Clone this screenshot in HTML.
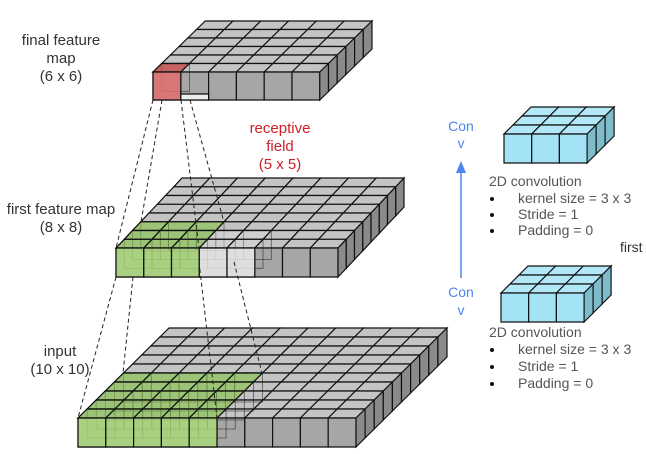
<!DOCTYPE html>
<html><head><meta charset="utf-8"><style>
html,body{margin:0;padding:0;background:#fff;width:646px;height:454px;overflow:hidden}
svg text{font-family:"Liberation Sans",sans-serif;font-size:14px}
.l text{font-size:15px}
</style></head><body>
<svg id="s" width="646" height="454" xmlns="http://www.w3.org/2000/svg">
<g id="g"></g>
<g fill="#333" text-anchor="middle" class="l">
<text x="61" y="45">final feature</text>
<text x="61" y="63">map</text>
<text x="61" y="81">(6 x 6)</text>
<text x="61" y="214">first feature map</text>
<text x="61" y="232">(8 x 8)</text>
<text x="60" y="356">input</text>
<text x="60" y="374">(10 x 10)</text>
</g>
<g fill="#d0202a" text-anchor="middle" class="l">
<text x="280" y="133">receptive</text>
<text x="280" y="151">field</text>
<text x="280" y="169">(5 x 5)</text>
</g>
<g fill="#4a86f0" text-anchor="middle">
<text x="461" y="131">Con</text>
<text x="461" y="148">v</text>
<text x="461" y="297">Con</text>
<text x="461" y="315">v</text>
</g>
<line x1="461" y1="278" x2="461" y2="172" stroke="#4a86f0" stroke-width="1.5"/>
<polygon points="461,161 456,173 466,173" fill="#4a86f0"/>
<g fill="#555">
<text x="489" y="186">2D convolution</text>
<text x="518" y="203">kernel size = 3 x 3</text>
<text x="518" y="219">Stride = 1</text>
<text x="518" y="235">Padding = 0</text>
<text x="489" y="337">2D convolution</text>
<text x="518" y="354">kernel size = 3 x 3</text>
<text x="518" y="371">Stride = 1</text>
<text x="518" y="388">Padding = 0</text>
</g>
<g fill="#111">
<circle cx="492" cy="199" r="2"/><circle cx="492" cy="215" r="2"/><circle cx="492" cy="231" r="2"/>
<circle cx="492" cy="350" r="2"/><circle cx="492" cy="367" r="2"/><circle cx="492" cy="384" r="2"/>
</g>
<text x="620" y="252" fill="#333">first</text>
<g id="d" stroke="#222" stroke-width="1" stroke-dasharray="4,3" fill="none"></g>
</svg>
<script>
var g=document.getElementById('g'),NS='http://www.w3.org/2000/svg';
function poly(pts,fill,sw,op){var p=document.createElementNS(NS,'polygon');p.setAttribute('points',pts.map(function(a){return a[0].toFixed(1)+','+a[1].toFixed(1)}).join(' '));p.setAttribute('fill',fill);p.setAttribute('stroke','#111');p.setAttribute('stroke-width',sw||1.2);if(op!=null)p.setAttribute('stroke-opacity',op);g.appendChild(p);}
function block(o){var n=o.n,w=o.w,dx=o.dx,dy=o.dy,h=o.h,ox=o.ox,oy=o.oy;
 for(var r=n-1;r>=0;r--)for(var c=0;c<n;c++){var x=ox+c*w+r*dx,y=oy-h+r*dy;poly([[x,y],[x+w,y],[x+w+dx,y+dy],[x+dx,y+dy]],o.top);}
 for(var c=0;c<n;c++){var x=ox+c*w;poly([[x,oy-h],[x+w,oy-h],[x+w,oy],[x,oy]],o.front);}
 for(var r=0;r<n;r++){var x=ox+n*w+r*dx,y=oy+r*dy;poly([[x,y],[x+dx,y+dy],[x+dx,y+dy-h],[x,y-h]],o.side);}
}
function hl(o,k,kr,c0,topc,frontc,ghost){var w=o.w,dx=o.dx,dy=o.dy,h=o.h,ox=o.ox,oy=o.oy;
 for(var r=kr-1;r>=0;r--)for(var c=c0;c<c0+k;c++){var x=ox+c*w+r*dx,y=oy-h+r*dy;
  if(ghost){poly([[x+dx,y+dy],[x+w+dx,y+dy],[x+w+dx,y+dy+h],[x+dx,y+dy+h]],'none',0.8,0.6);}
  poly([[x,y],[x+w,y],[x+w+dx,y+dy],[x+dx,y+dy]],topc);}
 for(var c=c0;c<c0+k;c++){var x=ox+c*w;poly([[x,oy-h],[x+w,oy-h],[x+w,oy],[x,oy]],frontc);}
}
var G={top:'#c4c4c4',front:'#a6a6a6',side:'#8a8a8a'};
var inp={ox:78,oy:447,n:10,w:27.8,dx:9.1,dy:-9,h:29};
var f1={ox:116,oy:277,n:8,w:27.75,dx:8.25,dy:-8.75,h:29};
var f2={ox:153,oy:100,n:6,w:27.8,dx:8.7,dy:-8.5,h:28};
[inp,f1,f2].forEach(function(o){for(var k in G)o[k]=G[k];block(o);});
hl(inp,5,5,0,'rgba(130,195,70,0.6)','rgba(170,218,120,0.8)',true);
hl(f1,3,3,0,'rgba(130,195,70,0.6)','rgba(170,218,120,0.8)',true);
hl(f1,2,2,3,'rgba(220,220,220,0.5)','rgba(232,232,232,0.85)',true);
hl(f2,1,1,0,'rgba(200,60,60,0.7)','rgba(225,110,110,0.85)',true);
poly([[f2.ox+f2.w,f2.oy-6],[f2.ox+2*f2.w,f2.oy-6],[f2.ox+2*f2.w,f2.oy],[f2.ox+f2.w,f2.oy]],'#ececec');
var K={top:'#b2e8f8',front:'#a4e2f6',side:'#7ebccc'};
[{ox:504,oy:163},{ox:501,oy:322}].forEach(function(o){o.n=3;o.w=27.7;o.dx=9;o.dy=-9;o.h=29;for(var k in K)o[k]=K[k];block(o);});
var d=document.getElementById('d');
[[153,100,116,248],[162,100,141,222],[181,100,199,248],[190,100,224,222],
 [116,277,78,418],[133,277,123,373],[199,262,217,418],[234,262,262,373]].forEach(function(a){
 var l=document.createElementNS(NS,'line');l.setAttribute('x1',a[0]);l.setAttribute('y1',a[1]);l.setAttribute('x2',a[2]);l.setAttribute('y2',a[3]);d.appendChild(l);});
</script>
</body></html>
